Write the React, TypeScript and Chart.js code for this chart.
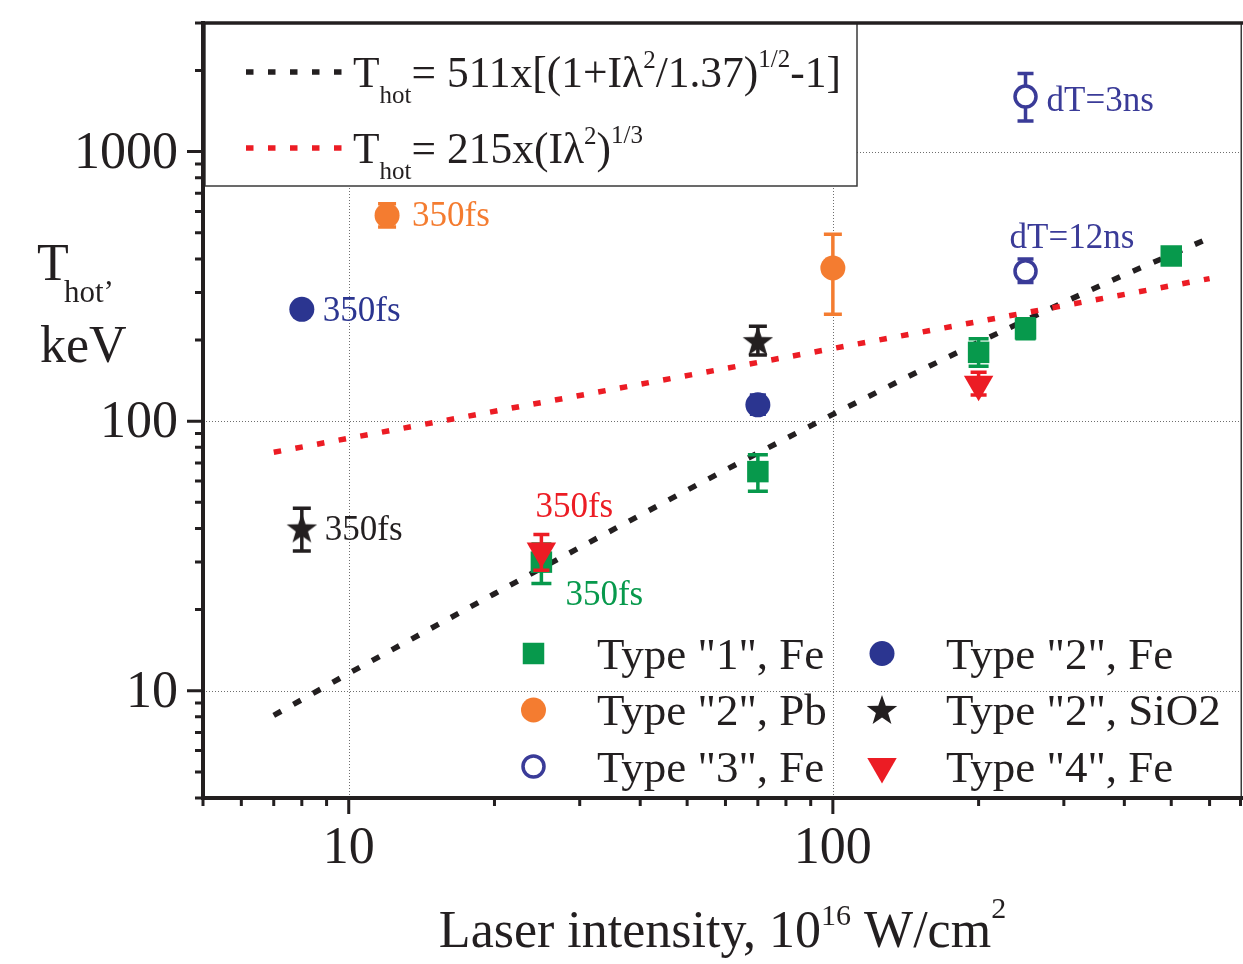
import React, { useEffect, useRef } from "react";
import { Chart, registerables } from "chart.js";

Chart.register(...registerables);

const SERIF = "'Liberation Serif', 'Times New Roman', Times, serif";

// ---------- axes ----------
const X_MIN = 5;
const X_MAX = 700;
const Y_MIN = 4;
const Y_MAX = 3000;
const xMajorTicks = [10, 100];
const xMajorLabels = ["10", "100"];
const xMinorTicks = [5, 6, 7, 8, 9, 20, 30, 40, 50, 60, 70, 80, 90, 200, 300, 400, 500, 600, 700];
const yMajorTicks = [10, 100, 1000];
const yMajorLabels = ["10", "100", "1000"];
const yMinorTicks = [4, 5, 6, 7, 8, 9, 20, 30, 40, 50, 60, 70, 80, 90, 200, 300, 400, 500, 600, 700, 800, 900, 2000, 3000];
const xGridValues = [10, 100];
const yGridValues = [10, 100, 1000];

// ---------- series ----------
const type1FeX = [25, 70, 200, 250, 500];
const type1FeY = [30, 65, 180, 220, 410];
const type1FeErrLow = [5, 10, 20, 18, 0];
const type1FeErrHigh = [5, 10, 22, 20, 0];

const type2FeX = [8, 70];
const type2FeY = [260, 115];
const type2FeErrLow = [0, 9];
const type2FeErrHigh = [0, 10];

const type2PbX = [12, 100];
const type2PbY = [580, 370];
const type2PbErrLow = [55, 121];
const type2PbErrHigh = [60, 124];

const type2SiO2X = [8, 70];
const type2SiO2Y = [40, 198];
const type2SiO2ErrLow = [7, 22];
const type2SiO2ErrHigh = [7.5, 27];

const type3FeX = [250, 250];
const type3FeY = [1600, 360];
const type3FeErrLow = [300, 33];
const type3FeErrHigh = [350, 40];

const type4FeX = [25, 200];
const type4FeY = [33, 137];
const type4FeErrLow = [5, 12];
const type4FeErrHigh = [5, 15];

// fit curves
const fitPondX = [7, 10, 20, 30, 50, 70, 100, 150, 200, 300, 400, 600];
const fitPondY = [8.1, 11.6, 22.9, 34.0, 55.5, 76.2, 106, 152.7, 196.3, 276.2, 348.8, 478.1];
const fitCubeX = [7, 10, 100, 600];
const fitCubeY = [76.7, 86.4, 186, 338];

const seriesLabels = ['Type "1", Fe', 'Type "2", Fe', 'Type "2", Pb', 'Type "2", SiO2', 'Type "3", Fe', 'Type "4", Fe'];

// annotations: text + the data point they belong to
const annotationTexts = ["350fs", "350fs", "350fs", "350fs", "350fs", "dT=3ns", "dT=12ns"];
const annotationAnchorX = [12, 8, 8, 25, 25, 250, 250];
const annotationAnchorY = [580, 260, 40, 33, 30, 1600, 360];

// ---------- styles ----------
const C = {
  green: "#07994c",
  navy: "#2b3590",
  navyLight: "#3a3b98",
  orange: "#f47c30",
  red: "#ec1c24",
  black: "#231f20",
};
const annotationColors = [C.orange, C.navy, C.black, C.red, C.green, C.navyLight, C.navyLight];
const annotationOffsets = [
  [25, 11],
  [21, 12],
  [23, 12],
  [-6, -34],
  [24, 43],
  [21, 14],
  [-16, -23],
];

function pts(xs: number[], ys: number[]) {
  return xs.map((x, i) => ({ x, y: ys[i] }));
}

function makeStar(): HTMLCanvasElement {
  const c = document.createElement("canvas");
  c.width = 34;
  c.height = 34;
  const g = c.getContext("2d")!;
  const R = 16;
  const r = 6.4;
  g.beginPath();
  for (let i = 0; i < 10; i++) {
    const a = -Math.PI / 2 + (i * Math.PI) / 5;
    const rr = i % 2 === 0 ? R : r;
    const px = 17 + rr * Math.cos(a);
    const py = 18 + rr * Math.sin(a);
    if (i === 0) g.moveTo(px, py);
    else g.lineTo(px, py);
  }
  g.closePath();
  g.fillStyle = C.black;
  g.fill();
  return c;
}

type Part = { t: string; size: number; dy: number };
function drawRich(ctx: CanvasRenderingContext2D, x: number, y: number, parts: Part[], color: string, center = false) {
  let w = 0;
  parts.forEach((p) => {
    ctx.font = `${p.size}px ${SERIF}`;
    w += ctx.measureText(p.t).width;
  });
  let cx = center ? x - w / 2 : x;
  ctx.fillStyle = color;
  ctx.textAlign = "left";
  ctx.textBaseline = "alphabetic";
  parts.forEach((p) => {
    ctx.font = `${p.size}px ${SERIF}`;
    ctx.fillText(p.t, cx, y + p.dy);
    cx += ctx.measureText(p.t).width;
  });
}

function drawMarker(ctx: CanvasRenderingContext2D, ds: any, x: number, y: number) {
  const style = ds.pointStyle;
  const r = ds.pointRadius;
  ctx.save();
  ctx.setLineDash([]);
  if (style === "rect") {
    const s = Math.SQRT1_2 * r;
    ctx.fillStyle = ds.backgroundColor;
    ctx.fillRect(x - s, y - s, 2 * s, 2 * s);
  } else if (style === "circle") {
    ctx.beginPath();
    ctx.arc(x, y, r, 0, Math.PI * 2);
    ctx.fillStyle = ds.backgroundColor;
    ctx.fill();
    if (ds.borderWidth > 0) {
      ctx.lineWidth = ds.borderWidth;
      ctx.strokeStyle = ds.borderColor;
      ctx.stroke();
    }
  } else if (style === "triangle") {
    ctx.beginPath();
    for (let i = 0; i < 3; i++) {
      const a = Math.PI + (i * 2 * Math.PI) / 3;
      const px = x + Math.sin(a) * r;
      const py = y - Math.cos(a) * r;
      if (i === 0) ctx.moveTo(px, py);
      else ctx.lineTo(px, py);
    }
    ctx.closePath();
    ctx.fillStyle = ds.backgroundColor;
    ctx.fill();
  } else if (style instanceof HTMLCanvasElement) {
    ctx.drawImage(style, x - style.width / 2, y - style.height / 2);
  }
  ctx.restore();
}

const decorPlugin = {
  id: "decor",
  beforeDatasetsDraw(chart: any) {
    const ctx: CanvasRenderingContext2D = chart.ctx;
    const xs = chart.scales.x;
    const ys = chart.scales.y;
    const a = chart.chartArea;
    ctx.save();
    ctx.strokeStyle = "#6e6e6e";
    ctx.lineWidth = 1;
    ctx.setLineDash([1, 2]);
    xGridValues.forEach((v) => {
      const px = Math.round(xs.getPixelForValue(v)) + 0.5;
      ctx.beginPath();
      ctx.moveTo(px, a.top);
      ctx.lineTo(px, a.bottom);
      ctx.stroke();
    });
    yGridValues.forEach((v) => {
      const py = Math.round(ys.getPixelForValue(v)) + 0.5;
      ctx.beginPath();
      ctx.moveTo(a.left, py);
      ctx.lineTo(a.right, py);
      ctx.stroke();
    });
    ctx.setLineDash([]);

    // formula legend box
    const bx = 205, by = a.top, bw = 652, bh = 163;
    ctx.fillStyle = "#ffffff";
    ctx.fillRect(bx, by, bw, bh);
    ctx.strokeStyle = "#3a3a3a";
    ctx.lineWidth = 1.5;
    ctx.strokeRect(bx, by, bw, bh);

    const fits = [chart.data.datasets[0], chart.data.datasets[1]];
    const rows = [72, 148];
    fits.forEach((ds: any, i: number) => {
      ctx.beginPath();
      ctx.strokeStyle = ds.borderColor;
      ctx.lineWidth = ds.borderWidth;
      ctx.lineCap = "butt";
      ctx.setLineDash([7.5, 14.5]);
      ctx.moveTo(246, rows[i]);
      ctx.lineTo(342, rows[i]);
      ctx.stroke();
      ctx.setLineDash([]);
    });
    const big = 43.5, small = 25;
    drawRich(ctx, 353, 87, [
      { t: "T", size: big, dy: 0 },
      { t: "hot", size: small, dy: 16 },
      { t: "= 511x[(1+I\u03bb", size: big, dy: 0 },
      { t: "2", size: small, dy: -19 },
      { t: "/1.37)", size: big, dy: 0 },
      { t: "1/2", size: small, dy: -20 },
      { t: "-1]", size: big, dy: 0 },
    ], C.black);
    drawRich(ctx, 353, 163, [
      { t: "T", size: big, dy: 0 },
      { t: "hot", size: small, dy: 16 },
      { t: "= 215x(I\u03bb", size: big, dy: 0 },
      { t: "2", size: small, dy: -19 },
      { t: ")", size: big, dy: 0 },
      { t: "1/3", size: small, dy: -20 },
    ], C.black);
    ctx.restore();
  },
  beforeDatasetDraw(chart: any, args: any) {
    const ds: any = chart.data.datasets[args.index];
    if (!ds.errLow) return;
    const ctx: CanvasRenderingContext2D = chart.ctx;
    const xs = chart.scales.x;
    const ys = chart.scales.y;
    ctx.save();
    ctx.setLineDash([]);
    ctx.strokeStyle = ds.errColor;
    ctx.lineWidth = 3.5;
    ctx.lineCap = "butt";
    ds.data.forEach((p: any, i: number) => {
      const lo = ds.errLow[i];
      const hi = ds.errHigh[i];
      if (!lo && !hi) return;
      const px = xs.getPixelForValue(p.x);
      const pLo = ys.getPixelForValue(p.y - lo);
      const pHi = ys.getPixelForValue(p.y + hi);
      const h = ds.capHalf;
      ctx.beginPath();
      ctx.moveTo(px, pLo);
      ctx.lineTo(px, pHi);
      ctx.moveTo(px - h, pLo);
      ctx.lineTo(px + h, pLo);
      ctx.moveTo(px - h, pHi);
      ctx.lineTo(px + h, pHi);
      ctx.stroke();
    });
    ctx.restore();
  },
  afterDraw(chart: any) {
    const ctx: CanvasRenderingContext2D = chart.ctx;
    const xs = chart.scales.x;
    const ys = chart.scales.y;
    const a = chart.chartArea;
    ctx.save();
    ctx.setLineDash([]);
    ctx.lineCap = "butt";

    // frame
    ctx.strokeStyle = "#3a3a3a";
    ctx.lineWidth = 1.5;
    ctx.beginPath();
    ctx.moveTo(a.right - 0.75, a.top);
    ctx.lineTo(a.right - 0.75, a.bottom);
    ctx.stroke();

    ctx.strokeStyle = C.black;
    ctx.lineWidth = 3.5;
    ctx.beginPath();
    ctx.moveTo(a.left - 2, a.top);
    ctx.lineTo(a.right + 2, a.top);
    ctx.stroke();
    ctx.lineWidth = 4;
    ctx.beginPath();
    ctx.moveTo(a.left, a.top - 2);
    ctx.lineTo(a.left, a.bottom + 2);
    ctx.moveTo(a.left - 2, a.bottom);
    ctx.lineTo(a.right + 2, a.bottom);
    ctx.stroke();

    // ticks
    ctx.lineWidth = 3;
    ctx.beginPath();
    yMajorTicks.forEach((v) => {
      const py = ys.getPixelForValue(v);
      ctx.moveTo(a.left - 16, py);
      ctx.lineTo(a.left, py);
    });
    yMinorTicks.forEach((v) => {
      const py = ys.getPixelForValue(v);
      ctx.moveTo(a.left - 8, py);
      ctx.lineTo(a.left, py);
    });
    xMajorTicks.forEach((v) => {
      const px = xs.getPixelForValue(v);
      ctx.moveTo(px, a.bottom);
      ctx.lineTo(px, a.bottom + 16);
    });
    xMinorTicks.forEach((v) => {
      const px = Math.min(xs.getPixelForValue(v), a.right - 1.5);
      ctx.moveTo(px, a.bottom);
      ctx.lineTo(px, a.bottom + 8);
    });
    ctx.stroke();

    // tick labels
    ctx.fillStyle = C.black;
    ctx.font = `52px ${SERIF}`;
    ctx.textBaseline = "alphabetic";
    ctx.textAlign = "right";
    yMajorTicks.forEach((v, i) => {
      ctx.fillText(yMajorLabels[i], a.left - 25, ys.getPixelForValue(v) + 16);
    });
    ctx.textAlign = "center";
    xMajorTicks.forEach((v, i) => {
      ctx.fillText(xMajorLabels[i], xs.getPixelForValue(v), a.bottom + 65);
    });

    // axis titles
    drawRich(ctx, (a.left + a.right) / 2, 947, [
      { t: "Laser intensity, 10", size: 52, dy: 0 },
      { t: "16", size: 30, dy: -22 },
      { t: " W/cm", size: 52, dy: 0 },
      { t: "2", size: 30, dy: -29 },
    ], C.black, true);
    drawRich(ctx, 37, 280, [{ t: "T", size: 52, dy: 0 }], C.black);
    drawRich(ctx, 64, 302, [{ t: "hot\u2019", size: 31, dy: 0 }], C.black);
    drawRich(ctx, 40, 362, [{ t: "keV", size: 52, dy: 0 }], C.black);

    // series legend (2 columns x 3 rows)
    const legendOrder = [2, 4, 6, 3, 5, 7];
    const colMarkerX = [533.5, 882];
    const colTextX = [597, 946];
    const rowY = [653.5, 710, 766.5];
    legendOrder.forEach((dsIndex, k) => {
      const ds: any = chart.data.datasets[dsIndex];
      const col = Math.floor(k / 3);
      const row = k % 3;
      drawMarker(ctx, ds, colMarkerX[col], rowY[row]);
      ctx.fillStyle = C.black;
      ctx.font = `45px ${SERIF}`;
      ctx.textAlign = "left";
      ctx.textBaseline = "alphabetic";
      ctx.fillText(ds.label, colTextX[col], rowY[row] + 15);
    });

    // annotations
    ctx.font = `35px ${SERIF}`;
    ctx.textAlign = "left";
    ctx.textBaseline = "alphabetic";
    annotationTexts.forEach((t, i) => {
      const px = xs.getPixelForValue(annotationAnchorX[i]);
      const py = ys.getPixelForValue(annotationAnchorY[i]);
      ctx.fillStyle = annotationColors[i];
      ctx.fillText(t, px + annotationOffsets[i][0], py + annotationOffsets[i][1]);
    });
    ctx.restore();
  },
};

export default function App() {
  const ref = useRef<HTMLCanvasElement | null>(null);
  useEffect(() => {
    if (!ref.current) return;
    const star = makeStar();
    const markerBase = { showLine: false, borderWidth: 0, pointBorderWidth: 0 };
    const chart = new Chart(ref.current, {
      type: "scatter",
      data: {
        datasets: [
          {
            label: "fit ponderomotive",
            data: pts(fitPondX, fitPondY),
            showLine: true,
            borderColor: C.black,
            borderWidth: 5.5,
            borderDash: [8.5, 14],
            borderCapStyle: "butt",
            pointRadius: 0,
            fill: false,
            order: 20,
          },
          {
            label: "fit cube root",
            data: pts(fitCubeX, fitCubeY),
            showLine: true,
            borderColor: C.red,
            borderWidth: 5.5,
            borderDash: [7.5, 14.5],
            borderCapStyle: "butt",
            pointRadius: 0,
            fill: false,
            order: 19,
          },
          {
            ...markerBase,
            label: seriesLabels[0],
            data: pts(type1FeX, type1FeY),
            pointStyle: "rect",
            pointRadius: 15.2,
            backgroundColor: C.green,
            borderColor: C.green,
            errLow: type1FeErrLow,
            errHigh: type1FeErrHigh,
            errColor: C.green,
            capHalf: 10,
            order: 5,
          },
          {
            ...markerBase,
            label: seriesLabels[1],
            data: pts(type2FeX, type2FeY),
            pointStyle: "circle",
            pointRadius: 12.5,
            backgroundColor: C.navy,
            borderColor: C.navy,
            errLow: type2FeErrLow,
            errHigh: type2FeErrHigh,
            errColor: C.navy,
            capHalf: 8,
            order: 5,
          },
          {
            ...markerBase,
            label: seriesLabels[2],
            data: pts(type2PbX, type2PbY),
            pointStyle: "circle",
            pointRadius: 12.5,
            backgroundColor: C.orange,
            borderColor: C.orange,
            errLow: type2PbErrLow,
            errHigh: type2PbErrHigh,
            errColor: C.orange,
            capHalf: 9,
            order: 5,
          },
          {
            ...markerBase,
            label: seriesLabels[3],
            data: pts(type2SiO2X, type2SiO2Y),
            pointStyle: star,
            pointRadius: 16,
            backgroundColor: C.black,
            borderColor: C.black,
            errLow: type2SiO2ErrLow,
            errHigh: type2SiO2ErrHigh,
            errColor: C.black,
            capHalf: 9,
            order: 5,
          },
          {
            label: seriesLabels[4],
            data: pts(type3FeX, type3FeY),
            showLine: false,
            pointStyle: "circle",
            pointRadius: 10.5,
            borderWidth: 3.5,
            pointBorderWidth: 3.5,
            backgroundColor: "#ffffff",
            borderColor: C.navyLight,
            errLow: type3FeErrLow,
            errHigh: type3FeErrHigh,
            errColor: C.navyLight,
            capHalf: 8,
            order: 5,
          },
          {
            ...markerBase,
            label: seriesLabels[5],
            data: pts(type4FeX, type4FeY),
            pointStyle: "triangle",
            pointRotation: 180,
            pointRadius: 17,
            backgroundColor: C.red,
            borderColor: C.red,
            errLow: type4FeErrLow,
            errHigh: type4FeErrHigh,
            errColor: C.red,
            capHalf: 8,
            order: 1,
          },
        ] as any,
      },
      options: {
        responsive: false,
        animation: false,
        events: [],
        layout: { autoPadding: false, padding: { left: 203, right: 1, top: 23, bottom: 166 } },
        plugins: { legend: { display: false }, tooltip: { enabled: false } },
        scales: {
          x: { type: "logarithmic", min: X_MIN, max: X_MAX, display: false },
          y: { type: "logarithmic", min: Y_MIN, max: Y_MAX, display: false },
        },
      } as any,
      plugins: [decorPlugin],
    });
    return () => chart.destroy();
  }, []);
  return (
    <div style={{ position: "fixed", left: 0, top: 0, width: 1243, height: 964, background: "#ffffff" }}>
      <canvas ref={ref} width={1243} height={964} style={{ display: "block" }} />
    </div>
  );
}
